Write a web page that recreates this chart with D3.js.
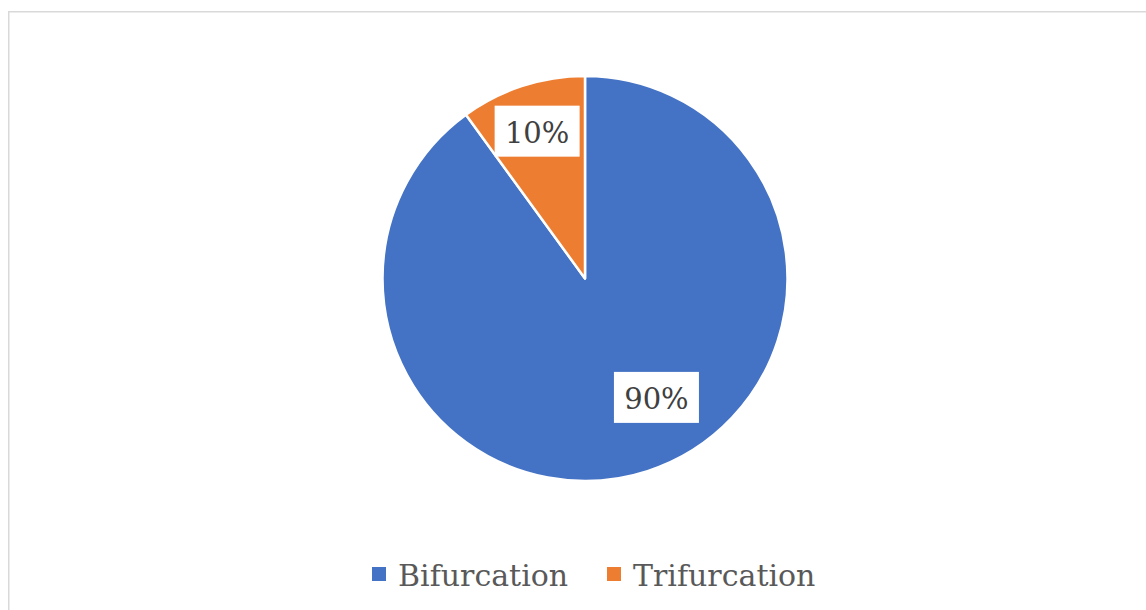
<!DOCTYPE html>
<html lang="en">
<head>
  <meta charset="UTF-8">
  <title>Bifurcation vs Trifurcation</title>
  <style>
    html, body { margin: 0; padding: 0; background: #fff; }
    svg { display: block; }
    .serif { font-family: "DejaVu Serif", serif; }
  </style>
</head>
<body>
  <script src="https://cdn.jsdelivr.net/npm/d3@7/dist/d3.min.js"></script>
  <script>
    let categories = ["Bifurcation", "Trifurcation"];
    let values = [90, 10];
    let labels = ["90%", "10%"];
    let colors = ["#4472C4", "#ED7D31"];

    let width = 1146,
      height = 610;
    let cx = 585, cy = 278.5, radius = 202.5;

    let svg = d3.select("body")
      .append("svg")
      .attr("width", width)
      .attr("height", height);

    // chart frame
    svg.append("rect")
      .attr("x", 8.75)
      .attr("y", 11.75)
      .attr("width", width)
      .attr("height", height)
      .attr("fill", "none")
      .attr("stroke", "#d9d9d9")
      .attr("stroke-width", 1.5);

    let pie = d3.pie().sort(null).value(d => d);
    let arcs = pie(values);
    let arc = d3.arc().innerRadius(0).outerRadius(radius);

    let g = svg.append("g").attr("transform", `translate(${cx},${cy})`);

    g.selectAll("path")
      .data(arcs)
      .enter()
      .append("path")
      .attr("d", arc)
      .attr("fill", (d, i) => colors[i])
      .attr("stroke", "#fff")
      .attr("stroke-width", 2.5)
      .attr("stroke-linejoin", "round");

    // data labels (excel "best fit" places them a bit off the middle angle)
    let labelShift = [-13, 0];       // degrees
    let labelDist = [0.685, 0.765];  // fraction of radius
    let labelPos = arcs.map((d, i) => {
      let a = (d.startAngle + d.endAngle) / 2 + labelShift[i] * Math.PI / 180;
      let r = radius * labelDist[i];
      return [r * Math.sin(a), -r * Math.cos(a)];
    });

    let lab = g.selectAll("g.lab")
      .data(arcs)
      .enter()
      .append("g")
      .attr("class", "lab")
      .attr("transform", (d, i) => `translate(${labelPos[i][0]},${labelPos[i][1]})`);

    lab.append("rect")
      .attr("x", -42.5)
      .attr("y", -25.5)
      .attr("width", 85)
      .attr("height", 51)
      .attr("fill", "#fff");

    lab.append("text")
      .attr("class", "serif")
      .attr("text-anchor", "middle")
      .attr("dy", 11.5)
      .style("font-size", "29px")
      .attr("fill", "#404040")
      .text((d, i) => labels[i]);

    // legend
    let legendX = [372, 607];
    let legend = svg.selectAll("g.legend")
      .data(categories)
      .enter()
      .append("g")
      .attr("class", "legend")
      .attr("transform", (d, i) => `translate(${legendX[i]},586)`);

    legend.append("rect")
      .attr("x", 0)
      .attr("y", -19)
      .attr("width", 14)
      .attr("height", 14)
      .attr("fill", (d, i) => colors[i]);

    legend.append("text")
      .attr("class", "serif")
      .attr("x", 26)
      .style("font-size", "30px")
      .attr("fill", "#595959")
      .text(d => d);
  </script>
</body>
</html>
